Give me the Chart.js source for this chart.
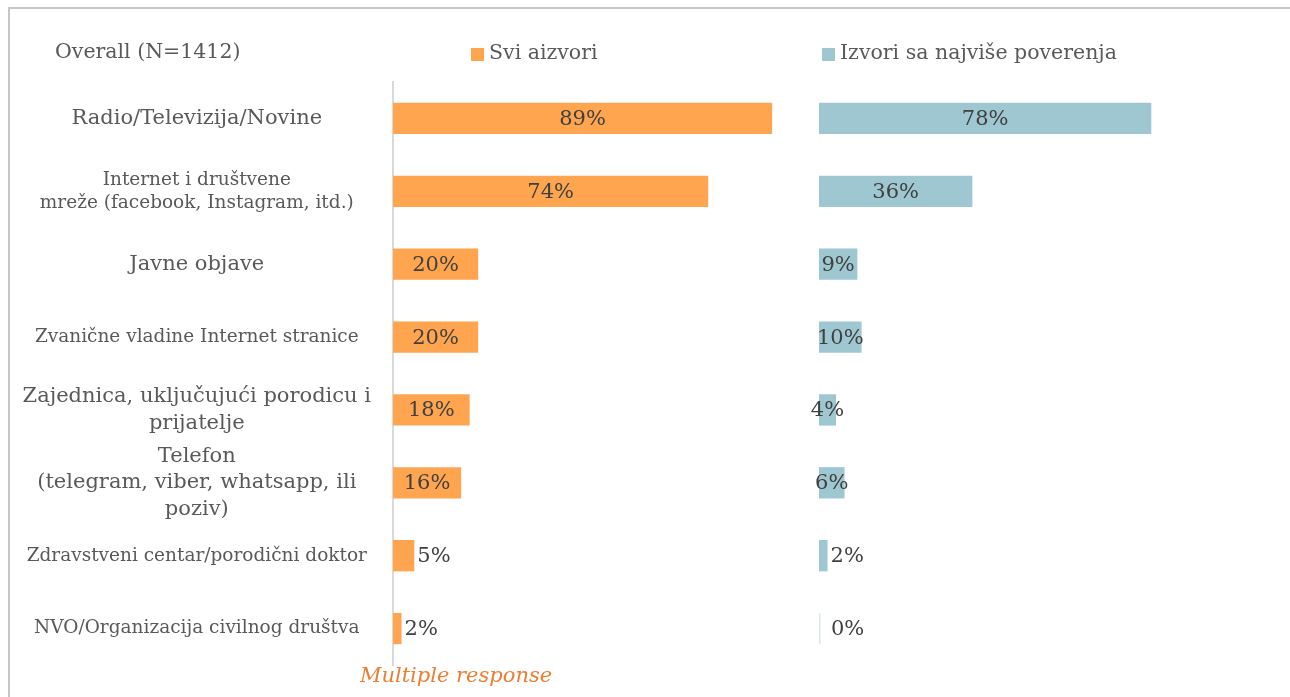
<!DOCTYPE html>
<html>
<head>
<meta charset="utf-8">
<script src="https://cdn.jsdelivr.net/npm/chart.js@4.4.0/dist/chart.umd.min.js"></script>
<style>
  html, body { margin: 0; padding: 0; background: #fff; overflow: hidden; }
  #frame { position: absolute; left: 8px; top: 7px; width: 1300px; height: 720px; border: 2px solid #c6c6c6; box-sizing: border-box; }
  #wrap { position: absolute; left: 0; top: 0; width: 1290px; height: 697px; }
</style>
</head>
<body>
<div id="frame"></div>
<div id="wrap"><canvas id="chart"></canvas></div>
<script>
const categories = [
    'Radio/Televizija/Novine',
    ['Internet i društvene', 'mreže (facebook, Instagram, itd.)'],
    'Javne objave',
    'Zvanične vladine Internet stranice',
    ['Zajednica, uključujući porodicu i', 'prijatelje'],
    ['Telefon', '(telegram, viber, whatsapp, ili', 'poziv)'],
    'Zdravstveni centar/porodični doktor',
    'NVO/Organizacija civilnog društva'
];
const allSources = [89, 74, 20, 20, 18, 16, 5, 2];
const trustedSources = [78, 36, 9, 10, 4, 6, 2, 0];
const seriesNames = ['Svi aizvori', 'Izvori sa najviše poverenja'];
const chartTitle = 'Overall (N=1412)';
const footNote = 'Multiple response';

const serif = '"DejaVu Serif", Georgia, serif';
const orange = '#FFA54F';
const blue = '#9EC7D1';
// big labels vs small labels, like the original
const tickSizes = [21, 18.5, 21, 18.5, 21, 21, 18.5, 18.5];

// percentage labels, legend, title and footnote
const overlay = {
    id: 'overlay',
    afterDatasetsDraw(chart) {
        const ctx = chart.ctx;
        ctx.save();
        ctx.font = '21px ' + serif;
        ctx.fillStyle = '#404040';
        ctx.textBaseline = 'middle';
        chart.data.datasets.forEach((ds, i) => {
            const meta = chart.getDatasetMeta(i);
            meta.data.forEach((bar, j) => {
                const v = ds.data[j];
                const text = v + '%';
                if (v === 0) {
                    ctx.fillStyle = '#dbe8ec';
                    ctx.fillRect(bar.base, bar.y - bar.height / 2, 1.5, bar.height);
                    ctx.fillStyle = '#404040';
                }
                if (v <= ds.outsideMax) {
                    ctx.textAlign = 'left';
                    ctx.fillText(text, bar.x + (v === 0 ? 12 : 3), bar.y + 1);
                } else {
                    ctx.textAlign = 'center';
                    ctx.fillText(text, (bar.x + bar.base) / 2, bar.y + 1);
                }
            });
        });
        ctx.restore();
    },
    afterDraw(chart) {
        const ctx = chart.ctx;
        const x1 = chart.scales.x1, x2 = chart.scales.x2;
        ctx.save();
        ctx.textBaseline = 'middle';
        ctx.textAlign = 'left';
        ctx.font = '20.5px ' + serif;
        ctx.fillStyle = '#595959';
        ctx.fillText(chartTitle, 55, 53);

        const items = [[x1.left + 78, orange, seriesNames[0]], [x2.left + 3, blue, seriesNames[1]]];
        items.forEach(([x, color, name]) => {
            ctx.fillStyle = color;
            ctx.fillRect(x, 48, 13, 13);
            ctx.fillStyle = '#595959';
            ctx.fillText(name, x + 18, 54);
        });

        ctx.font = 'italic 21px ' + serif;
        ctx.fillStyle = '#ED7D31';
        ctx.textAlign = 'center';
        ctx.fillText(footNote, x1.left + 63, 677);
        ctx.restore();
    }
};

new Chart(document.getElementById('chart'), {
    type: 'bar',
    data: {
        labels: categories,
        datasets: [
            {
                label: seriesNames[0],
                data: allSources,
                backgroundColor: orange,
                xAxisID: 'x1',
                outsideMax: 5
            },
            {
                label: seriesNames[1],
                data: trustedSources,
                backgroundColor: blue,
                xAxisID: 'x2',
                outsideMax: 2
            }
        ]
    },
    options: {
        indexAxis: 'y',
        responsive: true,
        maintainAspectRatio: false,
        animation: false,
        layout: { padding: { left: 8, top: 82, right: 45, bottom: 32 } },
        datasets: {
            bar: { grouped: false, barPercentage: 0.43, categoryPercentage: 1 }
        },
        plugins: {
            legend: { display: false },
            title: { display: false },
            tooltip: { enabled: false }
        },
        scales: {
            y: {
                afterFit: (scale) => {
                    scale.width = 385;
                    scale.paddingTop = 0;
                    scale.paddingBottom = 0;
                },
                grid: { display: false, drawTicks: false },
                border: { display: true, color: '#d9d9d9', width: 2 },
                ticks: {
                    crossAlign: 'center',
                    padding: 22,
                    color: '#595959',
                    autoSkip: false,
                    font: (c) => ({ family: serif, size: tickSizes[c.index] || 18.5, lineHeight: 1.25 })
                }
            },
            x1: {
                type: 'linear',
                display: false,
                position: 'bottom',
                stack: 'panels',
                stackWeight: 1,
                min: 0,
                max: 100
            },
            x2: {
                type: 'linear',
                display: false,
                position: 'bottom',
                stack: 'panels',
                stackWeight: 1,
                min: 0,
                max: 100
            }
        }
    },
    plugins: [overlay]
});
</script>
</body>
</html>
